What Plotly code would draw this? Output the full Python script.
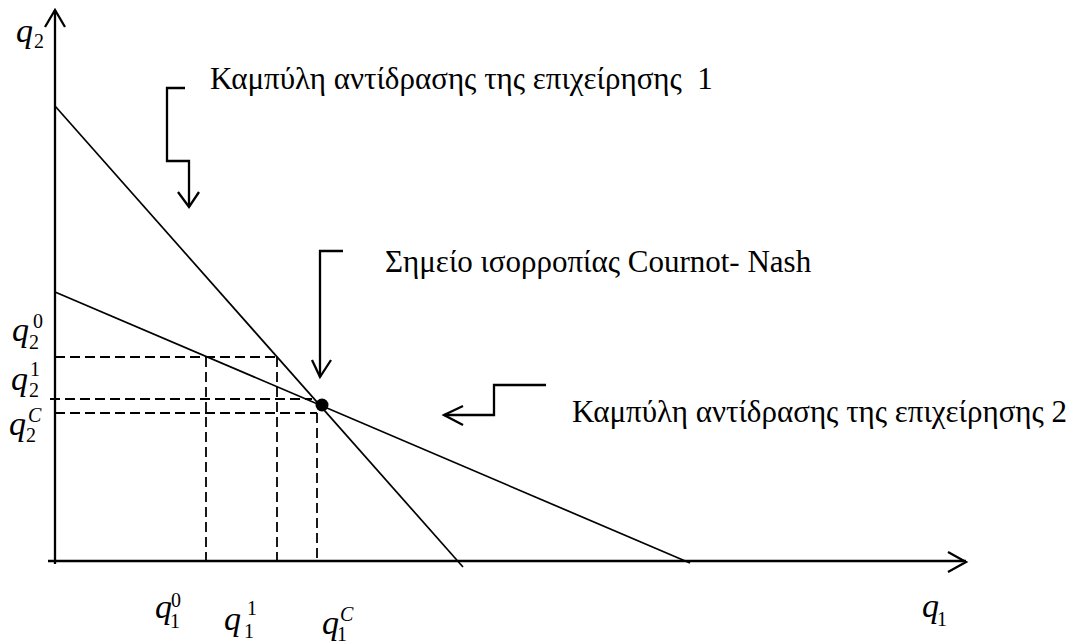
import plotly.graph_objects as go

# ---- data (plot units: q1 horizontal, q2 vertical) ----
curve1_q1 = [0, 408]      # reaction curve of firm 1 (endpoints)
curve1_q2 = [455, -6]
curve2_q1 = [0, 635]      # reaction curve of firm 2 (endpoints)
curve2_q2 = [269, -2]
eq_q1 = [267]             # Cournot-Nash equilibrium
eq_q2 = [156]
q1_levels = [151, 222, 262]   # q1^0, q1^1, q1^C
q2_levels = [204, 162, 148]   # q2^0, q2^1, q2^C
q2_1_right = 257              # right end of q2^1 dashed guide

FONT = "Liberation Serif"
INK = "black"

fig = go.Figure()

# reaction curves
fig.add_trace(go.Scatter(x=curve1_q1, y=curve1_q2, mode="lines",
                         line=dict(color=INK, width=1.7), hoverinfo="skip"))
fig.add_trace(go.Scatter(x=curve2_q1, y=curve2_q2, mode="lines",
                         line=dict(color=INK, width=1.7), hoverinfo="skip"))

# dashed guides
dash = "10px,5px"
seg = [
    ([0, q1_levels[1]], [q2_levels[0], q2_levels[0]]),
    ([-5, q2_1_right], [q2_levels[1], q2_levels[1]]),
    ([0, q1_levels[2]], [q2_levels[2], q2_levels[2]]),
    ([q1_levels[0], q1_levels[0]], [q2_levels[0], 0]),
    ([q1_levels[1], q1_levels[1]], [q2_levels[0], 0]),
    ([q1_levels[2], q1_levels[2]], [q2_levels[2], 0]),
]
for xs, ys in seg:
    fig.add_trace(go.Scatter(x=xs, y=ys, mode="lines",
                             line=dict(color=INK, width=1.8, dash=dash), hoverinfo="skip"))

# equilibrium point
fig.add_trace(go.Scatter(x=eq_q1, y=eq_q2, mode="markers",
                         marker=dict(color=INK, size=13), hoverinfo="skip"))

# ---- axes with arrowheads ----
shapes = []
def line(x0, y0, x1, y1, w=2.3):
    shapes.append(dict(type="line", xref="x", yref="y", x0=x0, y0=y0, x1=x1, y1=y1,
                       line=dict(color=INK, width=w)))
def path(pts, w=2.3):
    d = "M " + " L ".join(f"{x},{y}" for x, y in pts)
    shapes.append(dict(type="path", xref="x", yref="y", path=d,
                       line=dict(color=INK, width=w)))

line(-7, 0, 911, 0)
line(0, -3, 0, 551)
path([(-10, 534), (0, 551), (10, 534)])
path([(893, 9), (911, -1), (893, -11)])

# pointer arrows
path([(130, 473), (112, 473), (112, 400), (134, 400), (134, 354)])
path([(123, 369), (134, 354), (144, 369)])
path([(288, 310), (265, 310), (265, 184)])
path([(257, 201), (265, 184), (276, 201)])
path([(491, 176), (439, 176), (439, 146), (389, 146)])
path([(408, 155), (389, 146), (408, 136)])

# ---- text ----
ann = []
def text(x, y, t, size, anchor="left", italic=False):
    ann.append(dict(x=x, y=y, xref="x", yref="y", text=t, showarrow=False,
                    xanchor=anchor, yanchor="middle", borderpad=0,
                    font=dict(family=FONT, size=size, color=INK,
                              style="italic" if italic else "normal")))

TS = 31
text(154, 483, "Καμπύλη αντίδρασης της επιχείρησης \u00a01", TS)
text(329, 300, "Σημείο ισορροπίας Cournot- Nash", TS)
text(516, 150, "Καμπύλη αντίδρασης της επιχείρησης 2", TS)

QS = 34
SS = 20
QOFF = 7
def qlabel(qx, qy, sub, subxy, sup=None, supxy=None):
    text(qx, qy + QOFF, "q", QS, anchor="center", italic=True)
    text(subxy[0], subxy[1], sub, SS, anchor="center")
    if sup is not None:
        text(supxy[0], supxy[1], sup, SS, anchor="center", italic=(sup == "C"))

qlabel(-31, 524, "2", (-16, 520))
qlabel(-35, 225, "2", (-21, 219), "0", (-17, 240))
qlabel(-36, 176, "2", (-21.5, 171), "1", (-20, 192))
qlabel(-37.5, 131, "2", (-24, 126), "C", (-20, 146))
qlabel(108.5, -52, "1", (120, -60), "0", (121, -39))
qlabel(177.5, -64, "1", (194, -70), "1", (197, -47))
qlabel(275.5, -68, "1", (287, -73), "C", (291.5, -53))
qlabel(875, -51.5, "1", (886.5, -57.5))

fig.update_layout(
    width=1089, height=644,
    margin=dict(l=0, r=0, t=0, b=0),
    paper_bgcolor="white", plot_bgcolor="white",
    showlegend=False,
    xaxis=dict(range=[-55, 1034], visible=False, fixedrange=True),
    yaxis=dict(range=[-83, 561], visible=False, fixedrange=True),
    shapes=shapes, annotations=ann,
)

fig.write_html("out.html", config={"displayModeBar": False},
               post_script="document.body.style.margin='0';document.body.style.overflow='hidden';")
